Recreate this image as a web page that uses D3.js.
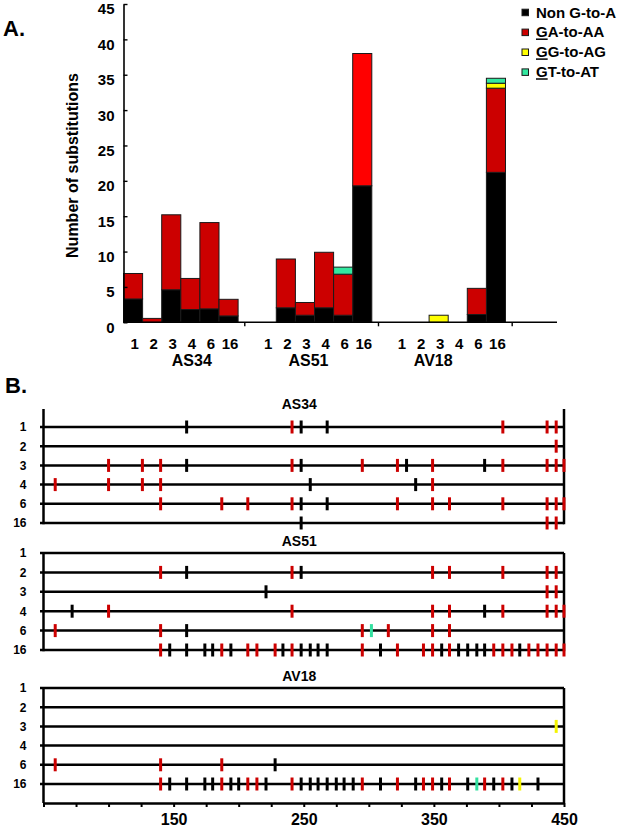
<!DOCTYPE html>
<html><head><meta charset="utf-8">
<script src="https://cdn.jsdelivr.net/npm/d3@7"></script>
<style>
body{margin:0;background:#fff;}
svg text{font-family:"Liberation Sans",Arial,Helvetica,sans-serif;font-weight:bold;fill:#000;}
</style></head><body>
<svg id="chart" width="626" height="828"></svg>
<script>
// ================= DATA =================
// Panel A: stacked bars, order of categories = groups x samples
const groups = ["AS34", "AS51", "AV18"];
const samples = ["1", "2", "3", "4", "6", "16"];
const seriesKeys = ["non", "ga", "gg", "gt"];
const legendLabels = ["Non G-to-A", "GA-to-AA", "GG-to-AG", "GT-to-AT"];
const yTicks = [0, 5, 10, 15, 20, 25, 30, 35, 40, 45];
//                 AS34: 1    2    3    4    6    16   | AS51: 1  2    3    4    6    16   | AV18: 1 2 3 4  6    16
const nonGtoA = [3.3, 0,   4.6, 1.8, 1.9, 0.9,   0, 2.05, 1.0, 2.05, 1.0, 19.3,   0, 0, 0, 0, 1.1, 21.2];
const gaToAA  = [3.6, 0.55,10.6,4.4, 12.2,2.35,  0, 6.9,  1.8, 7.85, 5.8, 18.7,   0, 0, 0, 0, 3.7, 11.9];
const ggToAG  = [0,   0,   0,   0,   0,   0,     0, 0,    0,   0,    0,   0,      0, 0, 1.0, 0, 0, 0.7];
const gtToAT  = [0,   0,   0,   0,   0,   0,     0, 0,    0,   0,    1.0, 0,      0, 0, 0, 0, 0,  0.7];

// Panel B: substitution positions per clone (position, type)
const xTickValues = [50, 75, 100, 125, 150, 175, 200, 225, 250, 275, 300, 325, 350, 375, 400, 425, 450];
const xTickLabels = [150, 250, 350, 450];
const marksAS34 = {
  "1": [[160,"N"],[241,"GA"],[248,"N"],[268,"N"],[403,"GA"],[437,"GA"],[444,"GA"]],
  "2": [[444,"GA"]],
  "3": [[100,"GA"],[126,"GA"],[140,"GA"],[160,"N"],[241,"GA"],[248,"N"],[295,"GA"],[322,"GA"],[329,"N"],[349,"GA"],[389,"N"],[403,"GA"],[437,"GA"],[444,"GA"],[450,"GA"]],
  "4": [[59,"GA"],[100,"GA"],[126,"GA"],[140,"GA"],[255,"N"],[336,"N"],[349,"GA"]],
  "6": [[140,"GA"],[187,"GA"],[207,"GA"],[241,"GA"],[248,"N"],[268,"N"],[322,"GA"],[349,"GA"],[362,"GA"],[403,"GA"],[437,"GA"],[444,"GA"],[450,"GA"]],
  "16": [[248,"N"],[437,"GA"],[444,"GA"]]
};
const marksAS51 = {
  "1": [],
  "2": [[140,"GA"],[160,"N"],[241,"GA"],[248,"N"],[349,"GA"],[362,"GA"],[403,"GA"],[437,"GA"],[444,"GA"]],
  "3": [[221,"N"],[437,"GA"],[444,"GA"]],
  "4": [[72,"N"],[100,"GA"],[241,"GA"],[349,"GA"],[362,"GA"],[389,"N"],[403,"GA"],[437,"GA"],[444,"GA"],[450,"GA"]],
  "6": [[59,"GA"],[140,"GA"],[160,"N"],[295,"GA"],[302,"GT"],[315,"GA"],[349,"GA"],[362,"GA"]],
  "16": [[140,"GA"],[147,"N"],[160,"N"],[174,"N"],[180,"N"],[187,"GA"],[194,"N"],[207,"GA"],[214,"GA"],[228,"GA"],[234,"N"],[241,"GA"],[248,"N"],[255,"N"],[261,"N"],[268,"N"],[295,"GA"],[309,"N"],[322,"GA"],[342,"GA"],[349,"GA"],[356,"N"],[362,"GA"],[369,"N"],[376,"N"],[383,"N"],[389,"N"],[396,"GA"],[403,"GA"],[410,"GA"],[416,"N"],[423,"GA"],[430,"GA"],[437,"GA"],[444,"GA"],[450,"GA"]]
};
const marksAV18 = {
  "1": [],
  "2": [],
  "3": [[444,"GG"]],
  "4": [],
  "6": [[59,"GA"],[140,"GA"],[187,"GA"],[228,"N"]],
  "16": [[140,"GA"],[147,"N"],[160,"N"],[174,"N"],[180,"N"],[187,"GA"],[194,"N"],[200,"N"],[207,"GA"],[214,"GA"],[221,"N"],[241,"GA"],[248,"N"],[255,"N"],[261,"N"],[268,"N"],[275,"N"],[281,"N"],[288,"N"],[295,"GA"],[309,"N"],[322,"GA"],[336,"N"],[342,"GA"],[349,"GA"],[356,"N"],[362,"GA"],[376,"N"],[383,"GT"],[389,"GA"],[396,"N"],[403,"GA"],[410,"N"],[416,"GG"],[430,"N"]]
};

// ================= STYLE =================
const barColors = {non: "#000000", ga: "#cc0000", gg: "#ffff00", gt: "#33e8a0"};
const barColorOverride = {"AS51|16|ga": "#ff0000"};
const markColors = {N: "#000000", GA: "#cc0000", GG: "#f4f400", GT: "#33e0a0"};

const svg = d3.select("#chart");

// ================= PANEL A =================
svg.append("text").attr("x", 3).attr("y", 36).style("font-size", "22px").text("A.");

const keys = [];
groups.forEach((g, gi) => {
  samples.forEach(s => keys.push(g + "|" + s));
  keys.push("gap" + gi);
});
const x = d3.scaleBand().domain(keys).range([123.5, 123.5 + keys.length * 19.1]).padding(0);
const bw = x.bandwidth();
const y = d3.scaleLinear().domain([0, 45]).range([322.3, 4]);

const barKeys = keys.filter(k => !k.startsWith("gap"));
const table = barKeys.map((k, i) => ({key: k, non: nonGtoA[i], ga: gaToAA[i], gg: ggToAG[i], gt: gtToAT[i]}));
const stacked = d3.stack().keys(seriesKeys)(table);

const gBars = svg.append("g");
stacked.forEach(layer => {
  gBars.selectAll(null)
    .data(layer.filter(d => d[1] - d[0] > 0))
    .join("rect")
    .attr("x", d => x(d.data.key))
    .attr("width", bw)
    .attr("y", d => y(d[1]))
    .attr("height", d => y(d[0]) - y(d[1]))
    .attr("fill", d => barColorOverride[d.data.key + "|" + layer.key] || barColors[layer.key])
    .attr("stroke", "#1a1a1a")
    .attr("stroke-width", 1);
});

// Y axis
const yAxis = svg.append("g").attr("transform", "translate(123.5,0)")
  .call(d3.axisLeft(y).tickValues(yTicks).tickSizeInner(-4).tickSizeOuter(0).tickPadding(9));
yAxis.select(".domain").attr("stroke", "#000").attr("stroke-width", 1.6);
yAxis.selectAll(".tick line").attr("stroke", "#000").attr("stroke-width", 1.4);
yAxis.selectAll(".tick text").style("font-size", "15px").attr("dy", "0.66em").attr("fill", "#000");

svg.append("text")
  .attr("transform", `translate(78,165.5) rotate(-90)`)
  .attr("text-anchor", "middle")
  .style("font-size", "16px")
  .text("Number of substitutions");

// X axis line and group ticks
const x0 = y(0);
svg.append("line").attr("x1", 123.5).attr("x2", 557).attr("y1", x0).attr("y2", x0)
  .attr("stroke", "#000").attr("stroke-width", 1.6);
svg.selectAll(null).data(keys.filter(k => k.startsWith("gap"))).join("line")
  .attr("x1", d => x(d) + bw * 0.35).attr("x2", d => x(d) + bw * 0.35)
  .attr("y1", x0).attr("y2", x0 + 4)
  .attr("stroke", "#000").attr("stroke-width", 1.4);

svg.selectAll(null).data(barKeys).join("text")
  .attr("x", d => x(d) + bw / 2 + 1.5)
  .attr("y", 348.5)
  .attr("text-anchor", "middle")
  .style("font-size", "15px")
  .text(d => d.split("|")[1]);

const groupLabelShift = [11, -6, -15];
svg.selectAll(null).data(groups).join("text")
  .attr("x", (g, i) => (x(g + "|" + samples[0]) + x(g + "|" + samples[samples.length - 1]) + bw) / 2 + groupLabelShift[i])
  .attr("y", 365.5)
  .attr("text-anchor", "middle")
  .style("font-size", "16px")
  .text(d => d);

// Legend
const legend = svg.append("g");
seriesKeys.forEach((k, i) => {
  const cy = 12.5 + i * 19.9;
  legend.append("rect").attr("x", 522).attr("y", cy - 3.3).attr("width", 6.5).attr("height", 6.5)
    .attr("fill", barColors[k]).attr("stroke", "#1a1a1a").attr("stroke-width", 1);
  const t = legend.append("text").attr("x", 536).attr("y", cy + 5).style("font-size", "15px").text(legendLabels[i]);
  if (i > 0) {
    const w = t.node().getSubStringLength(0, 1);
    legend.append("line").attr("x1", 536).attr("x2", 536 + w)
      .attr("y1", cy + 6.8).attr("y2", cy + 6.8).attr("stroke", "#000").attr("stroke-width", 1.5);
  }
});

// ================= PANEL B =================
svg.append("text").attr("x", 5).attr("y", 393.3).style("font-size", "22px").text("B.");

const xB = d3.scaleLinear().domain([50, 450]).range([43.5, 564]);
const panels = [
  {name: "AS34", marks: marksAS34, titleY: 409, frameTop: 409, rowTop: 427, rowBottom: 523, axisY: null},
  {name: "AS51", marks: marksAS51, titleY: 546, frameTop: 553, rowTop: 553, rowBottom: 650, axisY: null},
  {name: "AV18", marks: marksAV18, titleY: 681, frameTop: 688, rowTop: 688, rowBottom: 784, axisY: 803}
];
const LW = 2.5;

panels.forEach(p => {
  const g = svg.append("g");
  const yr = d3.scalePoint().domain(samples).range([p.rowTop, p.rowBottom]);
  const bottom = p.axisY !== null ? p.axisY : p.rowBottom;
  const [xa, xb] = xB.range();

  g.append("text").attr("x", (xa + xb) / 2 - 4.5).attr("y", p.titleY)
    .attr("text-anchor", "middle").style("font-size", "14px").text(p.name);

  // rows
  g.selectAll(null).data(samples).join("line")
    .attr("x1", xa - 3.5).attr("x2", xb)
    .attr("y1", d => yr(d)).attr("y2", d => yr(d))
    .attr("stroke", "#000").attr("stroke-width", LW);
  g.selectAll(null).data(samples).join("text")
    .attr("x", 26.5).attr("y", d => yr(d)).attr("dy", "0.36em")
    .attr("text-anchor", "end").style("font-size", "12px").text(d => d);

  // frame verticals
  [xa, xb].forEach(xv => {
    g.append("line").attr("x1", xv).attr("x2", xv).attr("y1", p.frameTop).attr("y2", bottom + (p.axisY !== null ? 0 : LW / 2))
      .attr("stroke", "#000").attr("stroke-width", LW);
  });

  if (p.axisY !== null) {
    const ax = g.append("g").attr("transform", `translate(0,${p.axisY})`)
      .call(d3.axisBottom(xB).tickValues(xTickValues).tickSize(4).tickSizeOuter(0).tickPadding(6.6)
        .tickFormat(d => xTickLabels.includes(d) ? String(d) : ""));
    ax.select(".domain").attr("stroke", "#000").attr("stroke-width", LW);
    ax.selectAll(".tick line").attr("stroke", "#000").attr("stroke-width", 2);
    ax.selectAll(".tick text").style("font-size", "16px").attr("fill", "#000");
  }

  // substitution marks
  const flat = [];
  samples.forEach(s => (p.marks[s] || []).forEach(m => flat.push({row: s, pos: m[0], type: m[1]})));
  g.selectAll(null).data(flat).join("line")
    .attr("x1", d => xB(d.pos)).attr("x2", d => xB(d.pos))
    .attr("y1", d => yr(d.row) - 6.5).attr("y2", d => yr(d.row) + 6.5)
    .attr("stroke", d => markColors[d.type]).attr("stroke-width", 3);
});
</script>
</body></html>
